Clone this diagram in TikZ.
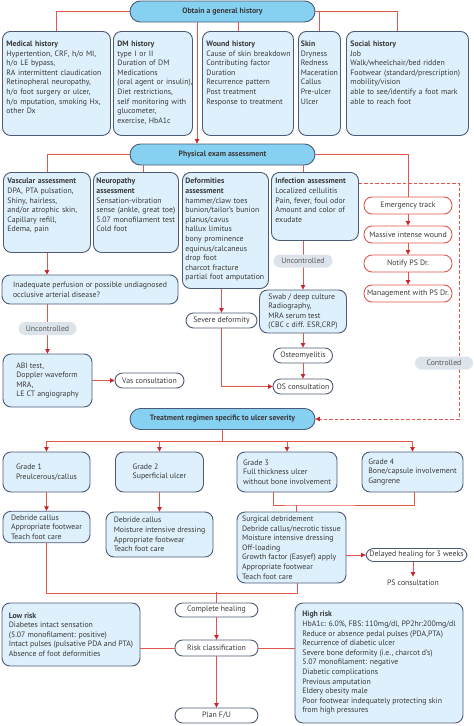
\documentclass[tikz,border=0pt]{standalone}
\usepackage{fontspec}
\setmainfont{PT Sans}
\usetikzlibrary{arrows.meta}

\definecolor{boxblue}{HTML}{DDF0FB}
\definecolor{headblue}{HTML}{86D0F2}
\definecolor{bordgray}{HTML}{4D5A75}
\definecolor{linkred}{HTML}{E2574C}
\definecolor{tipred}{HTML}{C9252C}
\definecolor{pillgray}{HTML}{DCE3EA}
\definecolor{pilltext}{HTML}{5A5A5A}
\definecolor{txt}{HTML}{3A3A3A}

% lines of a top-aligned box, never wrapped
\newcommand\boxlines[1]{\begin{tabular}[t]{@{}l@{}}#1\end{tabular}}

\tikzset{
  lnk/.style={draw=linkred, line width=0.8pt},
  arr/.style={lnk, -{Triangle[width=4.5pt,length=4.5pt,color=tipred]}},
  dsh/.style={arr, dash pattern=on 3.5pt off 2pt},
  headpill/.style={draw=bordgray, fill=headblue, line width=0.9pt, rounded corners=10.5pt,
    minimum width=185pt, minimum height=21pt, font=\fontsize{7.8}{9}\selectfont\bfseries},
  rowbox/.style n args={3}{draw=bordgray, fill=boxblue, line width=0.9pt, rounded corners=8pt,
    anchor=north west, inner xsep=4pt, inner ysep=3pt,
    text width=#1pt, text height=#2pt, text depth=#3pt},
  cbox/.style 2 args={draw=bordgray, fill=boxblue, line width=0.9pt, rounded corners=8pt,
    align=left, minimum width=#1pt, minimum height=#2pt},
  wpill/.style={draw=bordgray, fill=white, line width=0.9pt, rounded corners=7.5pt,
    minimum width=#1pt, minimum height=15pt, inner sep=1pt},
  rpill/.style={draw=linkred, fill=white, line width=0.9pt, rounded corners=8pt,
    minimum width=88pt, minimum height=17pt, inner sep=1pt},
  gpill/.style={fill=pillgray, text=pilltext, rounded corners=6.5pt,
    minimum width=#1pt, minimum height=13pt, inner sep=1pt},
}

\begin{document}
\begin{tikzpicture}[x=1pt, y=-1pt, font=\fontsize{7.8}{9.6}\selectfont, text=txt]
\useasboundingbox (0,0) rectangle (474,726);

% general history
\node[headpill] (hist) at (222.5,11.5) {Obtain a general history};
\node[rowbox={100}{12}{86}] (med) at (2,31) {\boxlines{\textbf{Medical history}\\Hypertention, CRF, h/o MI,\\h/o LE bypass,\\RA intermittent claudication\\Retinopheral neuropathy,\\h/o foot surgery or ulcer,\\h/o mputation, smoking Hx,\\other Dx}};
\node[rowbox={71}{12}{86}] (dm) at (113,31) {\boxlines{\textbf{DM history}\\type I or II\\Duration of DM\\Medications\\(oral agent or insulin),\\Diet restrictions,\\self monitoring with\\glucometer,\\exercise, HbA1c}};
\node[rowbox={83}{12}{86}] (wound) at (202,31) {\boxlines{\textbf{Wound history}\\Cause of skin breakdown\\Contributing factor\\Duration\\Recurrence pattern\\Post treatment\\Response to treatment}};
\node[rowbox={37}{12}{86}, inner xsep=2.5pt] (skin) at (298,31) {\boxlines{\textbf{Skin}\\Dryness\\Redness\\Maceration\\Callus\\Pre-ulcer\\Ulcer}};
\node[rowbox={114}{12}{86}] (social) at (346,31) {\boxlines{\textbf{Social history}\\Job\\Walk/wheelchair/bed ridden\\Footwear (standard/prescription)\\mobility/vision\\able to see/identify a foot mark\\able to reach foot}};

% physical exam
\node[headpill] (phys) at (222.5,154.5) {Physical exam assessment};
\node[rowbox={79}{8.5}{65.5}] (vasc) at (3,172) {\boxlines{\textbf{Vascular assessment}\\DPA, PTA pulsation,\\Shiny, hairless,\\and/or atrophic skin,\\Capillary refill,\\Edema, pain}};
\node[rowbox={79}{8.5}{65.5}, inner xsep=3pt] (neuro) at (93,172) {\boxlines{\textbf{Neuropathy}\\\textbf{assessment}\\Sensation-vibration\\sense (ankle, great toe)\\5.07 monofilament test\\Cold foot}};
\node[rowbox={80}{8.5}{101.5}, inner xsep=3pt] (deform) at (182,172) {\boxlines{\textbf{Deformities}\\\textbf{assessment}\\hammer/claw toes\\bunion/tailor's bunion\\planus/cavus\\hallux limitus\\bony prominence\\equinus/calcaneus\\drop foot\\charcot fracture\\partial foot amputation}};
\node[rowbox={79}{8.5}{53.5}] (infect) at (271,172) {\boxlines{\textbf{Infection assessment}\\Localized cellulitis\\Pain, fever, foul odor\\Amount and color of\\exudate}};

\node[cbox={176}{29}] (inad) at (90,289.5) {Inadequate perfusion or possible undiagnosed\\occlusive arterial disease?};
\node[cbox={89}{53}] (abi) at (47.5,380.5) {ABI test,\\Doppler waveform\\MRA,\\LE CT angiography};
\node[wpill=69] (vas) at (149.5,380.5) {Vas consultation};
\node[wpill=71] (severe) at (221.5,320.5) {Severe deformity};
\node[cbox={87}{43}] (swab) at (303,311.5) {Swab / deep culture\\Radiography,\\MRA serum test\\(CBC c diff. ESR,CRP)};
\node[wpill=59] (osteo) at (303,355.5) {Osteomyelitis};
\node[wpill=60] (oscons) at (303,386.5) {OS consultation};

% emergency track
\node[rpill] (emerg) at (408,205.5) {Emergency track};
\node[rpill] (massive) at (408,234.5) {Massive intense wound};
\node[rpill] (notify) at (408,263.5) {Notify PS Dr.};
\node[rpill] (mgmt) at (408,293.5) {Management with PS Dr.};

% treatment
\node[headpill] (treat) at (222.5,419) {Treatment regimen specific to ulcer severity};
\node[cbox={87}{40}] (g1) at (46.5,472) {Grade 1\\Preulcerous/callus};
\node[cbox={88}{40}] (g2) at (159.5,472) {Grade 2\\Superficial ulcer};
\node[cbox={100}{40}] (g3) at (287,472) {Grade 3\\Full thickness ulcer\\without bone involvement};
\node[cbox={101}{40}] (g4) at (412.5,472) {Grade 4\\Bone/capsule involvement\\Gangrene};
\node[cbox={87}{30}] (d1) at (46.5,527) {Debride callus\\Appropriate footwear\\Teach foot care};
\node[cbox={107}{45}] (d2) at (159.5,534.5) {Debride callus\\Moisture intensive dressing\\Appropriate footwear\\Teach foot care};
\node[cbox={109}{71}] (d3) at (291.5,547.5) {Surgical debridement\\Debride callus/necrotic tissue\\Moisture intensive dressing\\Off-loading\\Growth factor (Easyef) apply\\Appropriate footwear\\Teach foot care};
\node[wpill=101, minimum height=13pt] (delay) at (416.5,555) {Delayed healing for 3 weeks};
\node (pscons) at (413,583) {PS consultation};

% healing and risk
\node[wpill=83, minimum height=14pt] (heal) at (216.5,610) {Complete healing};
\node[wpill=83, minimum height=16pt] (risk) at (216.5,648) {Risk classification};
\node[wpill=83] (plan) at (216.5,715.5) {Plan F/U};
\node[cbox={138}{63}] (low) at (71,634.5) {\textbf{Low risk}\\Diabetes intact sensation\\(5.07 monofilament: positive)\\Intact pulses (pulsative PDA and PTA)\\Absence of foot deformities};
\node[cbox={168}{120}] (high) at (379,663) {\textbf{High risk}\\HbA1c: 6.0\%, FBS: 110mg/dl, PP2hr:200mg/dl\\Reduce or absence pedal pulses (PDA,PTA)\\Recurrence of diabetic ulcer\\Severe bone deformity (i.e., charcot d's)\\5.07 monofilament: negative\\Diabetic complications\\Previous amputation\\Eldery obesity male\\Poor footwear indequately protecting skin\\from high pressures};

% connectors: history
\draw[lnk] (hist.west) -| (med.north);
\draw[lnk] ([xshift=-10pt]wound.north) -- ([xshift=-10pt]wound.north |- hist.south);
\draw[lnk] (hist.east) -| ([xshift=-10pt]social.north);
\draw[lnk] (hist.east -| skin.north) -- (skin.north);
\draw[arr] ([xshift=-25.5pt]hist.south) -- ([xshift=-25.5pt]phys.north);

% connectors: physical exam
\draw[lnk] (phys.west) -| (vasc.north);
\draw[lnk] ([xshift=7.5pt]neuro.north) -- ([xshift=7.5pt]neuro.north |- phys.south);
\draw[lnk] (swab.north |- infect.north) -- (swab.north |- phys.south);
\draw[lnk] (phys.east) -| (emerg.north);
\draw[arr] (vasc.south) -- (vasc.south |- inad.north);
\draw[arr] (abi.north |- inad.south) -- (abi.north);
\draw[arr] (abi.east) -- (vas.west);
\draw[arr] (severe.north |- deform.south) -- (severe.north);
\draw[arr] (severe.south) |- (oscons.west);
\draw[arr] (swab.north |- infect.south) -- (swab.north);
\draw[arr] (swab.south) -- (osteo.north);
\draw[arr] (osteo.south) -- (oscons.north);
\draw[arr] (emerg.south) -- (massive.north);
\draw[arr] (massive.south) -- (notify.north);
\draw[arr] (notify.south) -- (mgmt.north);
\draw[dsh] ([yshift=-11pt]infect.north east) -- ++(100,0) |- (treat.east);

% connectors: treatment
\coordinate (tbar) at (222.5,441);
\draw[lnk] (treat.south) -- (tbar);
\draw[arr] (tbar) -| (g1.north);
\draw[arr] (tbar) -| (g4.north);
\draw[arr] (g2.north |- tbar) -- (g2.north);
\draw[arr] (g3.north |- tbar) -- (g3.north);
\draw[arr] (g1.south) -- (d1.north);
\draw[arr] (g2.south) -- (d2.north);
\coordinate (join) at (296,505);
\draw[lnk] ([xshift=-14pt]g3.south) |- (join) -| ([xshift=1.5pt]g4.south);
\draw[lnk] (join) -- (join |- d3.north);
\draw[arr] (d3.east |- delay.west) -- (delay.west);
\draw[arr] (pscons.north |- delay.south) -- (pscons.north);
\draw[lnk] (d1.south) -- ++(0,50) -| ([xshift=5.5pt]d3.south);
\draw[lnk] (heal.north) -- ++(0,-11);
\draw[arr] (heal.south) -- (risk.north);
\draw[arr] (risk.south) -- (plan.north);
\draw[lnk] (risk.west) -- (low.east |- risk.west);
\draw[lnk] (risk.east) -- (high.west |- risk.east);

% labels on the lines
\node[gpill=58] (unc1) at (47.5,328.5) {Uncontrolled};
\node[gpill=59] (unc2) at (303,261) {Uncontrolled};
\node[gpill=58] (ctrl) at (444,363) {Controlled};
\end{tikzpicture}
\end{document}
